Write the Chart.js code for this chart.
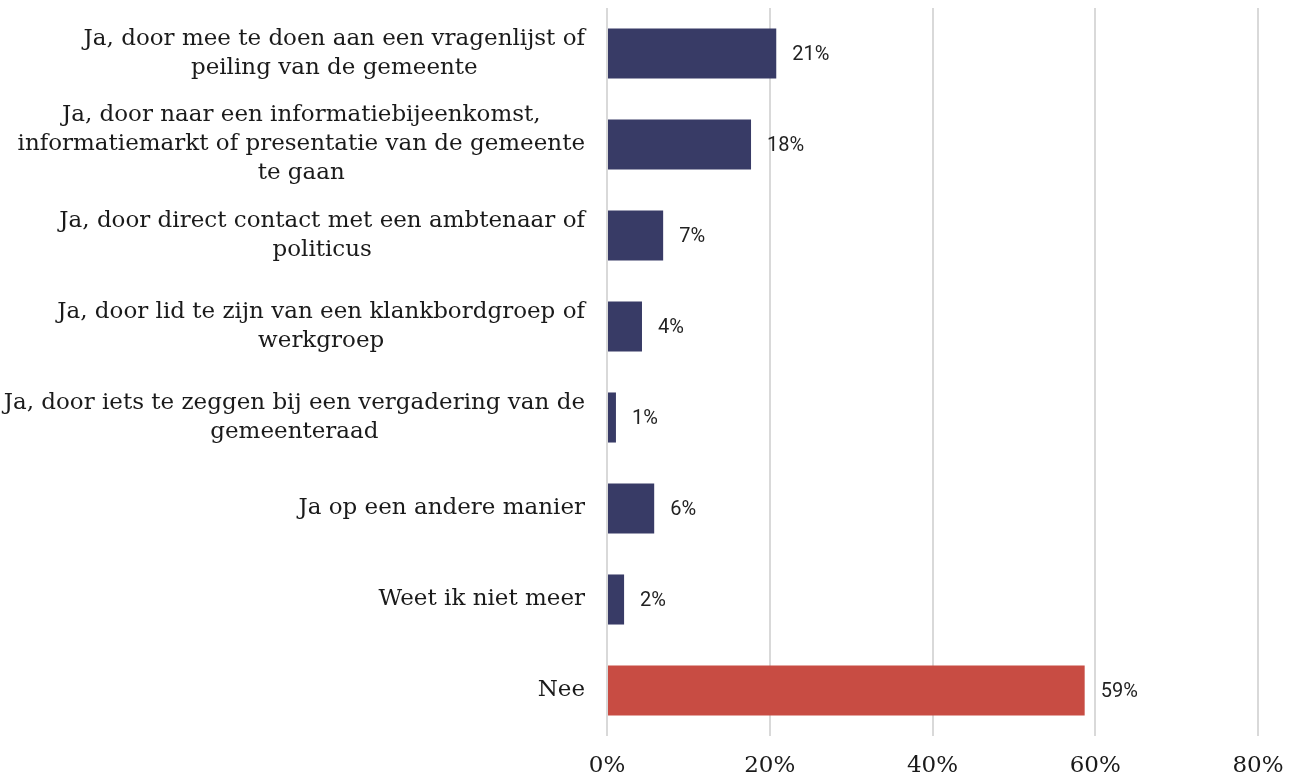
<!DOCTYPE html>
<html>
<head>
<meta charset="utf-8">
<script src="https://cdn.jsdelivr.net/npm/chart.js@4/dist/chart.umd.min.js"></script>
<style>
html,body{margin:0;padding:0;background:#fff;}
#wrap{width:1304px;height:777px;position:relative;}
</style>
</head>
<body>
<div id="wrap"><canvas id="c"></canvas></div>
<script>
const categories = [
  ["Ja, door mee te doen aan een vragenlijst of", "peiling van de gemeente"],
  ["Ja, door naar een informatiebijeenkomst,", "informatiemarkt of presentatie van de gemeente", "te gaan"],
  ["Ja, door direct contact met een ambtenaar of", "politicus"],
  ["Ja, door lid te zijn van een klankbordgroep of", "werkgroep"],
  ["Ja, door iets te zeggen bij een vergadering van de", "gemeenteraad"],
  ["Ja op een andere manier"],
  ["Weet ik niet meer"],
  ["Nee"]
];
const values = [20.8, 17.7, 6.9, 4.3, 1.1, 5.8, 2.1, 58.7];
const valueLabels = ["21%", "18%", "7%", "4%", "1%", "6%", "2%", "59%"];
const barColors = ["#383b66", "#383b66", "#383b66", "#383b66", "#383b66", "#383b66", "#383b66", "#c84c43"];
const xTicks = [0, 20, 40, 60, 80];

const SERIF = '"DejaVu Serif", serif';

const catLabelPlugin = {
  id: 'catLabels',
  afterDraw(chart) {
    const ctx = chart.ctx;
    const y = chart.scales.y;
    ctx.save();
    ctx.font = '23px ' + SERIF;
    ctx.fillStyle = '#1a1a1a';
    ctx.textAlign = 'center';
    ctx.textBaseline = 'middle';
    const lh = 29;
    const rightEdge = chart.chartArea.left - 22;
    categories.forEach((lines, i) => {
      const cy = y.getPixelForTick(i);
      let maxW = 0;
      lines.forEach(l => { maxW = Math.max(maxW, ctx.measureText(l).width); });
      const cx = rightEdge - maxW / 2;
      const top = cy - (lines.length - 1) * lh / 2;
      lines.forEach((l, k) => ctx.fillText(l, cx, top + k * lh));
    });
    ctx.restore();
  }
};

const valueLabelPlugin = {
  id: 'valLabels',
  afterDatasetsDraw(chart) {
    const ctx = chart.ctx;
    const meta = chart.getDatasetMeta(0);
    ctx.save();
    ctx.font = '20px Roboto';
    ctx.fillStyle = '#222';
    ctx.textAlign = 'left';
    ctx.textBaseline = 'middle';
    meta.data.forEach((bar, i) => {
      ctx.fillText(valueLabels[i], bar.x + 16, bar.y + 1);
    });
    ctx.restore();
  }
};

new Chart(document.getElementById('c'), {
  type: 'bar',
  data: {
    labels: categories.map(l => l.join(' ')),
    datasets: [{
      data: values,
      backgroundColor: barColors,
      barPercentage: 0.55,
      categoryPercentage: 1.0
    }]
  },
  options: {
    indexAxis: 'y',
    responsive: true,
    maintainAspectRatio: false,
    animation: false,
    layout: { padding: { top: 8, right: 46, bottom: 0, left: 0 } },
    plugins: { legend: { display: false }, tooltip: { enabled: false } },
    scales: {
      x: {
        min: 0, max: 80,
        afterBuildTicks(scale) { scale.ticks = xTicks.map(v => ({ value: v })); },
        afterFit(scale) { scale.height = 41; },
        grid: { color: '#d9d9d9', lineWidth: 2, drawTicks: false },
        border: { display: false },
        ticks: {
          font: { family: SERIF, size: 23 },
          color: '#1a1a1a',
          padding: 16,
          callback: v => v + '%'
        }
      },
      y: {
        grid: { display: false },
        border: { display: false },
        ticks: { display: false },
        afterFit(scale) { scale.width = 607; }
      }
    }
  },
  plugins: [catLabelPlugin, valueLabelPlugin]
});
</script>
</body>
</html>
